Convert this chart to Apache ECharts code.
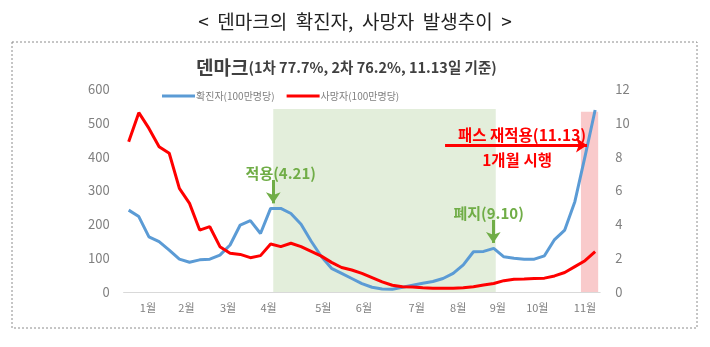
<!DOCTYPE html>
<html>
<head>
<meta charset="utf-8">
<script src="https://cdn.jsdelivr.net/npm/echarts@6/dist/echarts.min.js"></script>
<style>
html,body{margin:0;padding:0;background:#fff;}
#main{width:710px;height:347px;}
</style>
</head>
<body>
<div id="main"></div>
<script>
// Weekly values (week index 0..46, early Jan -> mid Nov)
const casesPerMillion = [242,223,163,149,124,97,88,95,97,109,139,198,211,173,247,247,232,200,150,105,70,55,40,25,14,9,8,14,20,26,31,40,55,80,119,120,129,104,100,97,97,107,155,183,267,400,538];
const deathsPerMillion = [8.88,10.6,9.67,8.59,8.2,6.13,5.24,3.66,3.86,2.68,2.29,2.22,2.03,2.15,2.84,2.68,2.88,2.68,2.4,2.12,1.75,1.45,1.3,1.1,0.85,0.6,0.4,0.31,0.3,0.25,0.22,0.22,0.22,0.25,0.31,0.41,0.5,0.67,0.75,0.77,0.8,0.82,0.95,1.15,1.5,1.85,2.38];
// Month tick labels and their week positions
const monthLabels = ['1월','2월','3월','4월','5월','6월','7월','8월','9월','10월','11월'];
const monthWeek = [1.9,5.7,9.8,13.8,19.2,23.2,28.4,32.5,36.4,40.3,45.0];
const leftTicks = [0,100,200,300,400,500,600];
const rightTicks = [0,2,4,6,8,10,12];
// Periods (week positions)
const passPeriod = [14.26, 36.2];
const reapplyPeriod = [44.6, 46.3];
const seriesNames = ['확진자(100만명당)','사망자(100만명당)'];

const FONT = '"Noto Sans CJK KR", "Noto Sans", sans-serif';
const chart = echarts.init(document.getElementById('main'));
const option = {
  backgroundColor: '#fff',
  animation: false,
  textStyle: { fontFamily: FONT },
  title: [{
    text: '<  덴마크의  확진자,  사망자  발생추이  >',
    left: 'center', top: 7,
    textStyle: { fontFamily: FONT, fontSize: 19, fontWeight: 'normal', color: '#222' }
  }, {
    text: '{a|덴마크}{b|(1차 77.7%, 2차 76.2%, 11.13일 기준)}',
    left: 191, top: 53,
    textStyle: {
      rich: {
        a: { fontFamily: FONT, fontSize: 19, fontWeight: 'bold', color: '#404040' },
        b: { fontFamily: FONT, fontSize: 14.5, fontWeight: 'bold', color: '#404040' }
      }
    }
  }],
  legend: {
    left: 157, top: 86,
    itemWidth: 33, itemHeight: 3, itemGap: 12,
    icon: 'rect',
    textStyle: { fontFamily: FONT, fontSize: 10, color: '#808080', padding: [0,0,0,-4] },
    data: seriesNames
  },
  grid: { left: 123.6, right: 109.8, top: 89, bottom: 55 },
  xAxis: {
    type: 'value', min: -0.5, max: 46.5,
    splitLine: { show: false },
    axisLine: { lineStyle: { color: '#d9d9d9', width: 1 } },
    axisTick: { show: false },
    axisLabel: {
      customValues: monthWeek,
      formatter: v => { const k = monthWeek.indexOf(v); return k >= 0 ? monthLabels[k] : ''; },
      color: '#808080', fontSize: 11, margin: 10, fontFamily: FONT
    }
  },
  yAxis: [{
    type: 'value', min: 0, max: 600, interval: 100,
    splitLine: { show: false },
    axisLine: { show: false }, axisTick: { show: false },
    axisLabel: { color: '#808080', fontSize: 13, margin: 14, fontFamily: FONT,
      formatter: v => leftTicks.includes(v) ? String(v) : '' }
  }, {
    type: 'value', min: 0, max: 12, interval: 2,
    splitLine: { show: false },
    axisLine: { show: false }, axisTick: { show: false },
    axisLabel: { color: '#808080', fontSize: 13, margin: 15, fontFamily: FONT,
      formatter: v => rightTicks.includes(v) ? String(v) : '' }
  }],
  series: [{
    name: seriesNames[0],
    type: 'line', yAxisIndex: 0,
    data: casesPerMillion.map((v, i) => [i, v]),
    showSymbol: false, symbol: 'none',
    lineStyle: { color: '#5b9bd5', width: 3 },
    itemStyle: { color: '#5b9bd5' },
    z: 3,
    markArea: {
      silent: true,
      data: [
        [{ xAxis: passPeriod[0], yAxis: 541, itemStyle: { color: '#e3eedb' } }, { xAxis: passPeriod[1], yAxis: 0 }],
        [{ xAxis: reapplyPeriod[0], yAxis: 533, itemStyle: { color: '#f9cacb' } }, { xAxis: reapplyPeriod[1], yAxis: 0 }]
      ]
    },
    markLine: {
      silent: true,
      symbol: ['none', 'arrow'],
      symbolSize: [11, 11],
      label: { show: false },
      data: [
        [{ coord: [14.26, 331], lineStyle: { color: '#70ad47', width: 3, type: 'solid' }, itemStyle: { color: '#70ad47' } }, { coord: [14.26, 262] }],
        [{ coord: [35.96, 213], lineStyle: { color: '#70ad47', width: 3, type: 'solid' }, itemStyle: { color: '#70ad47' } }, { coord: [35.96, 145] }],
        [{ coord: [31.2, 434], lineStyle: { color: '#ff0000', width: 3, type: 'solid' }, itemStyle: { color: '#ff0000' } }, { coord: [45.2, 434] }]
      ]
    },
    markPoint: {
      silent: true,
      symbol: 'circle', symbolSize: 0,
      label: { show: true, position: 'inside', formatter: '{b}', fontFamily: FONT, fontWeight: 'bold' },
      data: [
        { name: '적용(4.21)', coord: [15.0, 352], label: { color: '#70ad47', fontSize: 15 } },
        { name: '폐지(9.10)', coord: [35.5, 233], label: { color: '#70ad47', fontSize: 15 } },
        { name: '패스 재적용(11.13)', coord: [38.8, 464], label: { color: '#ff0000', fontSize: 15.5 } },
        { name: '1개월 시행', coord: [38.3, 390], label: { color: '#ff0000', fontSize: 15.5 } }
      ]
    }
  }, {
    name: seriesNames[1],
    type: 'line', yAxisIndex: 1,
    data: deathsPerMillion.map((v, i) => [i, v]),
    showSymbol: false, symbol: 'none',
    lineStyle: { color: '#ff0000', width: 3 },
    itemStyle: { color: '#ff0000' },
    z: 3
  }],
  graphic: [{
    type: 'rect', silent: true, z: -1,
    shape: { x: 12, y: 42, width: 685, height: 286 },
    style: { fill: 'none', stroke: '#8c8c8c', lineWidth: 1, lineDash: [2, 2] }
  }]
};
chart.setOption(option);
</script>
</body>
</html>
